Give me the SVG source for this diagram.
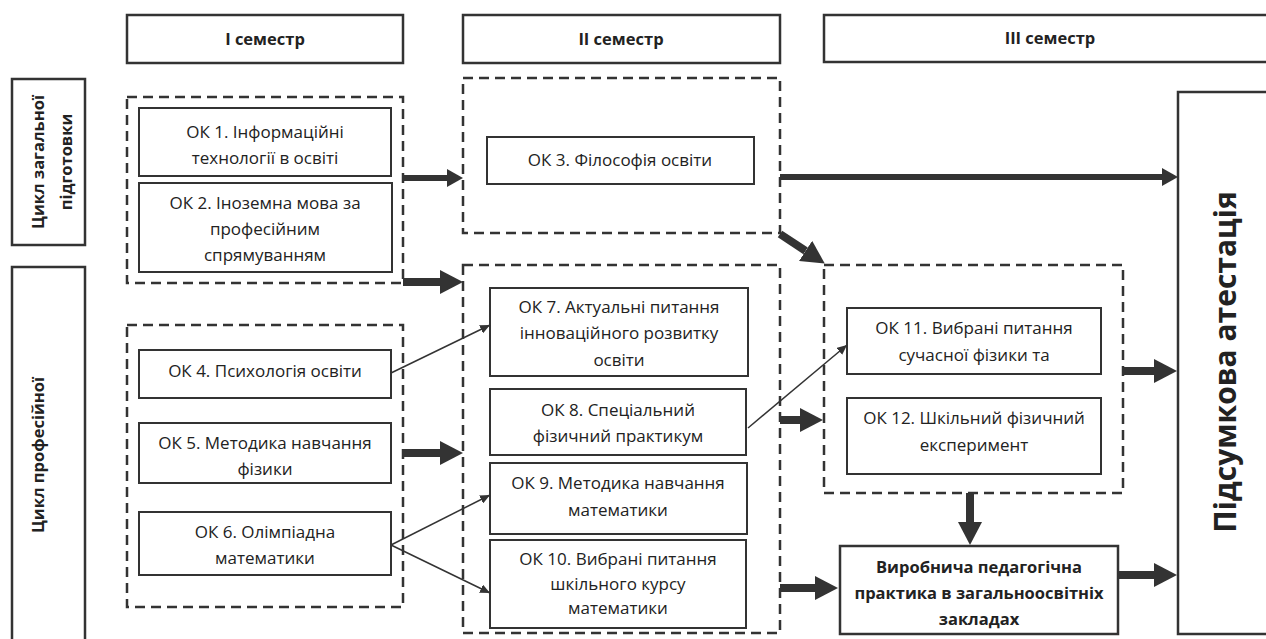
<svg xmlns="http://www.w3.org/2000/svg" width="1266" height="639" viewBox="0 0 1266 639">
<defs>
<style>
.box{fill:#fff;stroke:#333;stroke-width:2}
.hdr{fill:#fff;stroke:#333;stroke-width:2.5}
.grp{fill:none;stroke:#333;stroke-width:2.5;stroke-dasharray:10 6}
.t{font-family:"Open Sans","Noto Sans",sans-serif;font-size:17px;fill:#222;text-anchor:middle}
.b{font-family:"Open Sans","Noto Sans",sans-serif;font-size:16.5px;font-weight:bold;fill:#222;text-anchor:middle}
.thick{stroke:#333;fill:none}
.thin{stroke:#333;stroke-width:1.5;fill:none}
</style>
<marker id="hb" markerUnits="userSpaceOnUse" markerWidth="24" markerHeight="24" refX="0" refY="12" orient="auto">
<path d="M0,0 L23,12 L0,24 Z" fill="#333"/>
</marker>
<marker id="hm" markerUnits="userSpaceOnUse" markerWidth="17" markerHeight="18" refX="0" refY="9" orient="auto">
<path d="M0,0 L16,9 L0,18 Z" fill="#333"/>
</marker>
<marker id="hs" markerUnits="userSpaceOnUse" markerWidth="11" markerHeight="9" refX="10" refY="4.5" orient="auto">
<path d="M0,0 L10,4.5 L0,9 Z" fill="#333"/>
</marker>
</defs>
<rect width="1266" height="639" fill="#fff"/>

<g id="hdr1"><rect class="hdr" x="127" y="15" width="276" height="48"/><text class="b" x="265" y="45">І семестр</text></g>
<g id="hdr2"><rect class="hdr" x="463" y="15" width="317" height="48"/><text class="b" x="621" y="45">ІІ семестр</text></g>
<g id="hdr3"><rect class="hdr" x="824" y="15" width="460" height="47"/><text class="b" x="1050" y="44">ІІІ семестр</text></g>

<g id="cycle1"><rect class="hdr" x="12" y="79" width="73" height="166"/>
<text class="b" transform="translate(44,162) rotate(-90)">Цикл загальної</text>
<text class="b" transform="translate(72,162) rotate(-90)">підготовки</text></g>
<g id="cycle2"><rect class="hdr" x="12" y="267" width="73" height="390"/>
<text class="b" transform="translate(44,455) rotate(-90)">Цикл професійної</text></g>

<g id="group1"><rect class="grp" x="127" y="97" width="276" height="186"/></g>
<g id="group2"><rect class="grp" x="127" y="325" width="276" height="282"/></g>
<g id="group3"><rect class="grp" x="463" y="78" width="317" height="155"/></g>
<g id="group4"><rect class="grp" x="463" y="265" width="317" height="368"/></g>
<g id="group5"><rect class="grp" x="824" y="265" width="299" height="228"/></g>

<g id="ok1"><rect class="box" x="139" y="108" width="252" height="68"/><text class="t" x="265" y="138">ОК 1. Інформаційні</text><text class="t" x="265" y="164">технології в освіті</text></g>
<g id="ok2"><rect class="box" x="139" y="183" width="253" height="89"/><text class="t" x="265" y="209">ОК 2. Іноземна мова за</text><text class="t" x="265" y="235">професійним</text><text class="t" x="265" y="261">спрямуванням</text></g>
<g id="ok3"><rect class="box" x="487" y="137" width="267" height="47"/><text class="t" x="620" y="166">ОК 3. Філософія освіти</text></g>
<g id="ok4"><rect class="box" x="139" y="350" width="252" height="48"/><text class="t" x="265" y="377">ОК 4. Психологія освіти</text></g>
<g id="ok5"><rect class="box" x="139" y="423" width="252" height="60"/><text class="t" x="265" y="449">ОК 5. Методика навчання</text><text class="t" x="265" y="475">фізики</text></g>
<g id="ok6"><rect class="box" x="139" y="512" width="252" height="63"/><text class="t" x="265" y="538">ОК 6. Олімпіадна</text><text class="t" x="265" y="564">математики</text></g>
<g id="ok7"><rect class="box" x="490" y="288" width="258" height="88"/><text class="t" x="619" y="313">ОК 7. Актуальні питання</text><text class="t" x="619" y="339">інноваційного розвитку</text><text class="t" x="619" y="366">освіти</text></g>
<g id="ok8"><rect class="box" x="490" y="389" width="256" height="66"/><text class="t" x="618" y="416">ОК 8. Спеціальний</text><text class="t" x="618" y="442">фізичний практикум</text></g>
<g id="ok9"><rect class="box" x="490" y="463" width="257" height="71"/><text class="t" x="618" y="489">ОК 9. Методика навчання</text><text class="t" x="618" y="516">математики</text></g>
<g id="ok10"><rect class="box" x="490" y="540" width="256" height="88"/><text class="t" x="618" y="565">ОК 10. Вибрані питання</text><text class="t" x="618" y="590">шкільного курсу</text><text class="t" x="618" y="614">математики</text></g>
<g id="ok11"><rect class="box" x="847" y="308" width="254" height="66"/><text class="t" x="974" y="334">ОК 11. Вибрані питання</text><text class="t" x="974" y="361">сучасної фізики та</text></g>
<g id="ok12"><rect class="box" x="847" y="398" width="254" height="76"/><text class="t" x="974" y="424">ОК 12. Шкільний фізичний</text><text class="t" x="974" y="451">експеримент</text></g>
<g id="practice"><rect class="hdr" x="840" y="546" width="278" height="88"/><text class="b" x="979" y="573">Виробнича педагогічна</text><text class="b" x="979" y="599">практика в загальноосвітніх</text><text class="b" x="979" y="625">закладах</text></g>
<g id="final"><rect class="hdr" x="1178" y="92" width="110" height="542"/>
<text font-family="Open Sans, Noto Sans, sans-serif" font-size="30" font-weight="bold" fill="#222" text-anchor="middle" transform="translate(1236,362) rotate(-90)">Підсумкова атестація</text></g>

<g id="connectors">
<line class="thick" stroke-width="6" x1="403" y1="178" x2="447" y2="178" marker-end="url(#hm)"/>
<line class="thick" stroke-width="8" x1="403" y1="282" x2="440" y2="282" marker-end="url(#hb)"/>
<line class="thick" stroke-width="6" x1="780" y1="177" x2="1162" y2="177" marker-end="url(#hm)"/>
<line class="thick" stroke-width="8" x1="780" y1="234" x2="805.6" y2="250.9" marker-end="url(#hb)"/>
<line class="thick" stroke-width="8" x1="403" y1="453" x2="440" y2="453" marker-end="url(#hb)"/>
<line class="thick" stroke-width="8" x1="780" y1="420" x2="800" y2="420" marker-end="url(#hb)"/>
<line class="thick" stroke-width="8" x1="780" y1="588" x2="815" y2="588" marker-end="url(#hb)"/>
<line class="thick" stroke-width="8" x1="1123" y1="371" x2="1154" y2="371" marker-end="url(#hb)"/>
<line class="thick" stroke-width="8" x1="970" y1="493" x2="970" y2="522" marker-end="url(#hb)"/>
<line class="thick" stroke-width="8" x1="1118" y1="575" x2="1154" y2="575" marker-end="url(#hb)"/>
<line class="thin" x1="391" y1="373" x2="490" y2="325" marker-end="url(#hs)"/>
<line class="thin" x1="391" y1="545" x2="490" y2="495" marker-end="url(#hs)"/>
<line class="thin" x1="391" y1="545" x2="490" y2="593" marker-end="url(#hs)"/>
<line class="thin" x1="748" y1="428" x2="847" y2="345" marker-end="url(#hs)"/>
</g>
</svg>
